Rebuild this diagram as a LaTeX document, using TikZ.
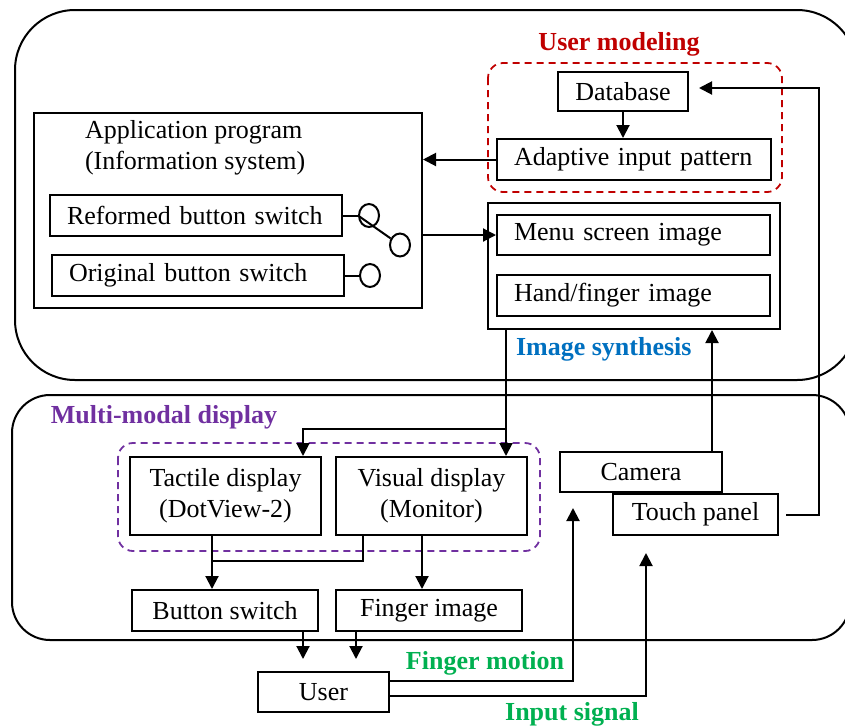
\documentclass[tikz,border=0pt]{standalone}
\usepackage{fontspec}
\setmainfont{Liberation Serif}
\usetikzlibrary{arrows.meta,shapes.geometric}

\definecolor{modred}{RGB}{192,0,0}
\definecolor{synblue}{RGB}{0,112,192}
\definecolor{mmpurple}{RGB}{112,48,160}
\definecolor{sigreen}{RGB}{0,176,80}
\newcommand{\figfont}{\fontsize{26}{31}\selectfont}

\tikzset{
  blk/.style={draw, inner sep=0pt, align=center},
  lblk/.style={draw, inner xsep=17pt, inner ysep=0pt, align=left},
  swcirc/.style={ellipse, draw, minimum width=20pt, minimum height=23pt, inner sep=0pt},
  grp/.style={line width=1.8pt, dash pattern=on 7pt off 5pt, rounded corners=15pt},
  lbltxt/.style={font=\figfont\bfseries, inner sep=0pt}
}

\begin{document}
\begin{tikzpicture}[x=1pt,y=-1pt,line width=2pt,font=\figfont,>={Triangle[length=13pt,width=13pt]}]
    \useasboundingbox (0,0) rectangle (845,726);
    \clip (0,0) rectangle (845,726);
    % frames
    \draw[rounded corners=60pt] (15,10) rectangle (857,380);
    \draw[rounded corners=38pt] (12,395) rectangle (850,640);
    % user modeling
    \node[lbltxt,text=modred] (umtag) at (619,44) {User modeling};
    \draw[grp,draw=modred] (488,63) rectangle (782,192);
    \node[blk,minimum width=130pt,minimum height=39pt] (db) at (623,91.5) {Database};
    \node[lblk,text width=240pt,minimum height=41pt] (aip) at (634,159.5) {Adaptive input pattern};
    % application program
    \node[draw,minimum width=388pt,minimum height=195pt] (app) at (228,210.5) {};
    \node[anchor=west,align=left,inner sep=0pt] (apptxt) at (84,148) {Application program\\(Information system)};
    \node[lblk,text width=258pt,minimum height=41pt] (rbs) at (196,215.5) {Reformed button switch};
    \node[lblk,text width=258pt,minimum height=41pt] (obs) at (198,275.5) {Original button switch};
    \node[swcirc] (c1) at (369,215.5) {};
    \node[swcirc] (c2) at (400,245) {};
    \node[swcirc] (c3) at (370,275.5) {};
    \draw (rbs.east) -- (c1.west);
    \draw (c1.west) -- (c2);
    \draw (obs.east) -- (c3.west);
    % image synthesis
    \node[draw,minimum width=292pt,minimum height=126pt] (synth) at (634,266) {};
    \node[lblk,text width=239pt,minimum height=40pt] (menu) at (633.5,235) {Menu screen image};
    \node[lblk,text width=239pt,minimum height=41pt] (hand) at (633.5,295.5) {Hand/finger image};
    \node[lbltxt,text=synblue,anchor=west] (sytag) at (515,349) {Image synthesis};
    \draw[->] (aip.west) -- (aip.west -| app.east);
    \draw[->] (app.east |- menu.west) -- (menu.west);
    \draw[->] (db.south) -- (aip.north -| db.south);
    % multi-modal display
    \node[lbltxt,text=mmpurple] (mmtag) at (164,417) {Multi-modal display};
    \draw[grp,draw=mmpurple] (118,443) rectangle (540,551);
    \node[blk,minimum width=191pt,minimum height=78pt] (tactile) at (225.5,496) {Tactile display\\(DotView-2)};
    \node[blk,minimum width=191pt,minimum height=78pt] (visual) at (431.5,496) {Visual display\\(Monitor)};
    \node[blk,minimum width=186pt,minimum height=41pt] (button) at (225,610.5) {Button switch};
    \node[blk,minimum width=186pt,minimum height=41pt] (finger) at (429,610.5) {Finger image};
    \node[blk,minimum width=162pt,minimum height=40pt] (camera) at (641,472) {Camera};
    \node[blk,minimum width=165pt,minimum height=41pt] (touch) at (695.5,514.5) {Touch panel};
    % user
    \node[blk,minimum width=131pt,minimum height=40pt] (user) at (323.5,692) {User};
    \node[lbltxt,text=sigreen] (fmtag) at (485,663) {Finger motion};
    \node[lbltxt,text=sigreen] (istag) at (572,714) {Input signal};
    % connectors
    \coordinate (split) at (506,429);
    \coordinate (merge) at (212,561);
    \coordinate (rbus) at (819,88);
    \draw[->] (synth.south -| split) -- (visual.north -| split);
    \draw[->] (split) -| ([xshift=77.5pt]tactile.north);
    \draw[->] ([xshift=-13.5pt]tactile.south) -- ([xshift=-13.5pt]tactile.south |- button.north);
    \draw ([xshift=-68.5pt]visual.south) |- (merge);
    \draw[->] ([xshift=-9.5pt]visual.south) -- ([xshift=-9.5pt]visual.south |- finger.north);
    \draw[->,shorten >=12pt] ([xshift=78pt]button.south) -- ([xshift=78pt]button.south |- user.north);
    \draw[->,shorten >=12pt] ([xshift=-73pt]finger.south) -- ([xshift=-73pt]finger.south |- user.north);
    \draw[->,shorten >=15pt] ([yshift=11pt]user.east) -| ([xshift=-68pt]camera.south);
    \draw[->,shorten >=17pt] ([yshift=-4pt]user.east) -| ([xshift=-49.5pt]touch.south);
    \draw[->] ([xshift=71pt]camera.north) -- ([xshift=71pt]camera.north |- synth.south);
    \draw[->,shorten <=7pt,shorten >=10pt] (touch.east) -| (rbus) -- (db.east |- rbus);
\end{tikzpicture}
\end{document}
